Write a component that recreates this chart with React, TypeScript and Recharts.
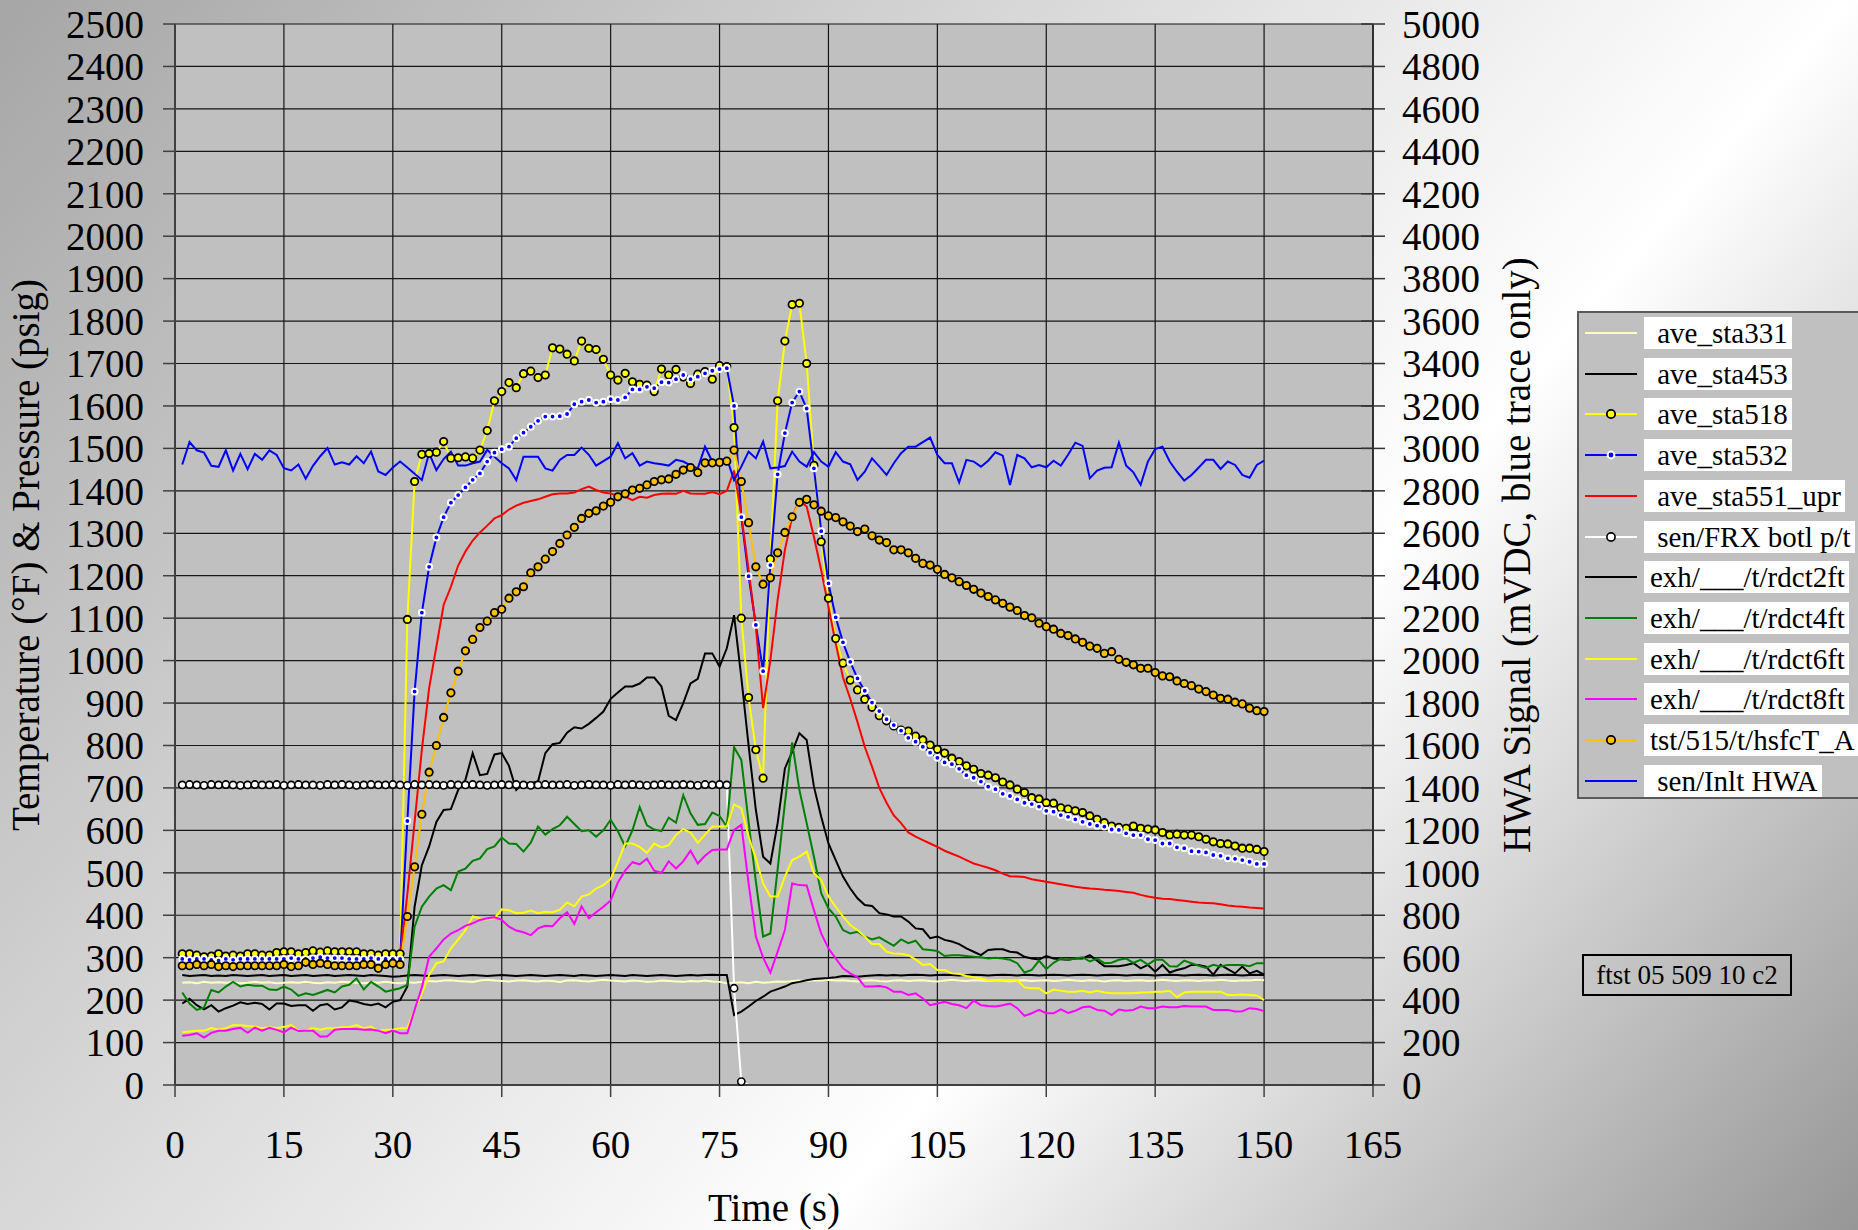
import React from "react";
import { LineChart, Line, XAxis, YAxis, CartesianGrid, Legend, Label } from "recharts";

const FONT = "'Liberation Serif', 'Times New Roman', Times, serif";

// sample times (s)
const secs = Array.from({ length: 150 }, (_, i) => i + 1);

const timeTicks = [0, 15, 30, 45, 60, 75, 90, 105, 120, 135, 150, 165];
const leftTicks = [0, 100, 200, 300, 400, 500, 600, 700, 800, 900, 1000, 1100, 1200, 1300, 1400, 1500, 1600, 1700, 1800, 1900, 2000, 2100, 2200, 2300, 2400, 2500];
const rightTicks = [0, 200, 400, 600, 800, 1000, 1200, 1400, 1600, 1800, 2000, 2200, 2400, 2600, 2800, 3000, 3200, 3400, 3600, 3800, 4000, 4200, 4400, 4600, 4800, 5000];

const ave331 = [
  241, 242, 240, 243, 241, 242, 241, 242, 240, 241,
  243, 241, 242, 240, 241, 242, 241, 243, 241, 240,
  242, 241, 243, 242, 241, 240, 242, 241, 243, 241,
  240, 242, 241, 243, 245, 244, 246, 247, 245, 244,
  243, 246, 248, 246, 245, 244, 246, 247, 245, 244,
  246, 245, 243, 246, 247, 245, 244, 246, 248, 246,
  245, 244, 246, 245, 243, 244, 246, 245, 244, 243,
  245, 244, 246, 244, 243, 240, 241, 242, 240, 243,
  241, 242, 244, 243, 245, 246, 245, 247, 246, 248,
  246, 247, 245, 244, 246, 247, 245, 244, 246, 247,
  245, 246, 247, 245, 244, 246, 248, 246, 245, 247,
  246, 245, 247, 246, 244, 246, 247, 245, 246, 247,
  245, 246, 248, 246, 245, 247, 246, 244, 246, 247,
  245, 246, 247, 245, 246, 248, 246, 245, 247, 246,
  245, 247, 246, 248, 246, 245, 247, 246, 248, 247,
];

const ave453 = [
  259, 257, 258, 259, 257, 258, 257, 259, 258, 257,
  258, 259, 257, 258, 259, 257, 258, 259, 257, 258,
  259, 257, 258, 259, 258, 257, 259, 258, 257, 255,
  256, 258, 259, 258, 257, 258, 259, 258, 257, 258,
  259, 258, 257, 258, 259, 258, 257, 258, 259, 258,
  257, 258, 259, 258, 257, 259, 258, 257, 258, 259,
  258, 257, 259, 258, 257, 258, 259, 258, 257, 258,
  259, 258, 259, 260, 259, 259, 165, 173, 185, 198,
  208, 220, 226, 232, 240, 243, 247, 250, 251, 252,
  254, 257, 256, 255, 257, 258, 259, 258, 259, 258,
  259, 260, 259, 258, 259, 260, 259, 258, 259, 260,
  259, 258, 259, 260, 259, 258, 260, 259, 258, 259,
  260, 259, 258, 259, 260, 259, 258, 259, 260, 259,
  258, 259, 260, 259, 258, 259, 260, 259, 258, 259,
  260, 259, 258, 259, 260, 259, 258, 259, 260, 259,
];

const ave518 = [
  309, 309, 306, 302, 304, 309, 304, 306, 304, 309,
  309, 306, 306, 312, 314, 314, 309, 312, 316, 313,
  316, 314, 314, 314, 314, 309, 309, 306, 309, 309,
  309, 1097, 1422, 1486, 1488, 1491, 1516, 1477, 1478, 1480,
  1477, 1496, 1542, 1612, 1634, 1655, 1643, 1676, 1682, 1667,
  1673, 1737, 1734, 1722, 1706, 1753, 1736, 1733, 1710, 1673,
  1661, 1677, 1657, 1651, 1649, 1634, 1687, 1673, 1686, 1668,
  1653, 1675, 1681, 1663, 1695, 1693, 1549, 1100, 913, 790,
  723, 1239, 1612, 1753, 1839, 1842, 1700, 1460, 1280, 1147,
  1052, 994, 954, 931, 909, 890, 870, 858, 846, 836,
  834, 822, 813, 801, 791, 782, 770, 762, 752, 744,
  734, 730, 724, 714, 707, 697, 689, 677, 674, 665,
  664, 653, 650, 646, 642, 634, 626, 618, 610, 607,
  605, 610, 605, 603, 601, 595, 589, 591, 589, 589,
  585, 579, 573, 569, 568, 563, 558, 558, 555, 550,
];

const ave532 = [
  297, 295, 297, 297, 295, 293, 297, 295, 297, 297,
  297, 297, 297, 297, 297, 299, 297, 297, 299, 301,
  299, 299, 299, 297, 297, 297, 299, 297, 297, 297,
  297, 622, 927, 1113, 1221, 1290, 1338, 1372, 1390, 1408,
  1426, 1441, 1469, 1490, 1498, 1504, 1524, 1537, 1551, 1565,
  1575, 1575, 1576, 1581, 1604, 1610, 1614, 1608, 1610, 1616,
  1614, 1620, 1639, 1639, 1645, 1642, 1656, 1655, 1663, 1673,
  1663, 1669, 1677, 1683, 1687, 1689, 1600, 1338, 1199, 1084,
  975, 1225, 1439, 1536, 1608, 1634, 1594, 1453, 1305, 1182,
  1102, 1043, 997, 958, 929, 901, 881, 862, 848, 835,
  818, 809, 797, 783, 771, 760, 756, 745, 730, 724,
  715, 703, 697, 686, 681, 673, 665, 662, 656, 646,
  644, 636, 632, 626, 620, 615, 611, 609, 602, 601,
  593, 589, 589, 579, 577, 569, 569, 560, 558, 551,
  550, 548, 542, 540, 534, 533, 530, 526, 521, 521,
];

const ave551 = [
  298, 297, 298, 299, 298, 297, 298, 299, 298, 297,
  298, 299, 298, 297, 298, 299, 298, 297, 298, 299,
  298, 297, 298, 299, 298, 297, 298, 299, 298, 297,
  300, 450, 620, 790, 935, 1033, 1131, 1174, 1224, 1257,
  1283, 1302, 1318, 1335, 1343, 1356, 1365, 1372, 1376, 1380,
  1386, 1392, 1394, 1394, 1396, 1404, 1410, 1402, 1396, 1394,
  1388, 1386, 1378, 1386, 1384, 1390, 1393, 1394, 1393, 1400,
  1394, 1393, 1393, 1397, 1392, 1400, 1448, 1343, 1213, 1080,
  888, 1001, 1143, 1261, 1339, 1377, 1363, 1292, 1213, 1127,
  1041, 960, 910, 855, 797, 750, 700, 665, 635, 617,
  595, 585, 577, 569, 561, 552, 545, 538, 530, 522,
  517, 512, 506, 498, 492, 491, 490, 485, 482, 479,
  476, 473, 470, 467, 465, 463, 462, 460, 459, 457,
  455, 453, 448, 444, 441, 439, 438, 436, 434, 432,
  430, 429, 428, 426, 423, 421, 420, 418, 417, 416,
];

const frxBotl = [
  707, 708, 707, 706, 708, 707, 708, 707, 706, 707,
  708, 707, 707, 708, 706, 707, 708, 707, 707, 706,
  708, 707, 708, 707, 706, 707, 708, 707, 707, 708,
  707, 706, 708, 707, 708, 707, 706, 708, 707, 707,
  708, 707, 706, 707, 708, 707, 708, 707, 706, 707,
  708, 707, 707, 708, 706, 707, 708, 707, 707, 706,
  708, 707, 708, 707, 706, 707, 708, 707, 707, 708,
  707, 706, 708, 707, 708, 707, 228, 8, 0, 0,
  0, 0, 0, 0, 0, 0, 0, 0, 0, 0,
  0, 0, 0, 0, 0, 0, 0, 0, 0, 0,
  0, 0, 0, 0, 0, 0, 0, 0, 0, 0,
  0, 0, 0, 0, 0, 0, 0, 0, 0, 0,
  0, 0, 0, 0, 0, 0, 0, 0, 0, 0,
  0, 0, 0, 0, 0, 0, 0, 0, 0, 0,
  0, 0, 0, 0, 0, 0, 0, 0, 0, 0,
];

const rdct2 = [
  192, 203, 188, 178, 188, 173, 181, 187, 195, 191,
  194, 191, 178, 192, 192, 186, 188, 188, 175, 188,
  191, 178, 183, 199, 196, 191, 188, 192, 183, 196,
  200, 232, 420, 518, 562, 620, 648, 650, 695, 719,
  782, 730, 733, 779, 782, 752, 695, 711, 711, 715,
  782, 803, 806, 830, 843, 840, 851, 865, 880, 910,
  925, 939, 939, 946, 960, 960, 939, 870, 860, 900,
  946, 957, 1017, 1017, 986, 1029, 1107, 960, 800, 648,
  538, 522, 617, 746, 785, 829, 813, 703, 632, 569,
  530, 491, 463, 440, 424, 422, 405, 402, 397, 397,
  385, 369, 367, 346, 350, 342, 338, 332, 322, 314,
  306, 318, 320, 320, 314, 312, 302, 298, 296, 304,
  298, 296, 295, 298, 298, 306, 293, 280, 280, 280,
  283, 287, 275, 283, 267, 283, 265, 271, 275, 283,
  283, 279, 260, 283, 273, 263, 279, 263, 269, 260,
];

const rdct4 = [
  218, 192, 177, 183, 224, 218, 232, 243, 232, 236,
  234, 234, 225, 224, 232, 225, 210, 216, 212, 218,
  224, 218, 232, 236, 251, 225, 243, 232, 220, 224,
  228, 236, 373, 420, 444, 463, 471, 459, 503, 510,
  528, 534, 556, 562, 583, 569, 568, 550, 571, 609,
  590, 603, 612, 632, 615, 598, 600, 585, 600, 625,
  598, 562, 600, 655, 612, 602, 598, 630, 618, 683,
  640, 613, 615, 642, 634, 609, 796, 766, 620, 480,
  350, 357, 508, 664, 807, 695, 617, 538, 452, 416,
  397, 365, 357, 361, 350, 343, 348, 338, 328, 343,
  334, 340, 320, 318, 316, 304, 306, 306, 304, 302,
  301, 298, 300, 298, 295, 287, 265, 271, 293, 273,
  288, 298, 295, 298, 301, 291, 298, 287, 288, 295,
  298, 288, 295, 284, 295, 295, 280, 279, 293, 287,
  281, 276, 283, 279, 283, 283, 283, 280, 287, 287,
];

const rdct6 = [
  124, 126, 128, 128, 134, 130, 134, 141, 141, 139,
  137, 134, 136, 134, 137, 141, 128, 128, 134, 130,
  134, 134, 136, 136, 141, 134, 137, 127, 130, 130,
  134, 134, 177, 216, 259, 287, 291, 322, 343, 365,
  397, 393, 390, 393, 414, 412, 405, 406, 411, 405,
  408, 407, 413, 430, 421, 444, 449, 463, 471, 485,
  525, 569, 569, 561, 547, 569, 560, 565, 589, 603,
  595, 571, 590, 609, 609, 609, 661, 652, 585, 534,
  475, 444, 444, 491, 530, 538, 550, 499, 483, 444,
  420, 397, 377, 365, 350, 332, 332, 314, 310, 309,
  306, 296, 283, 285, 271, 271, 263, 262, 257, 254,
  251, 247, 246, 247, 247, 247, 230, 228, 228, 216,
  225, 222, 220, 220, 222, 218, 222, 218, 216, 216,
  216, 216, 218, 218, 220, 220, 222, 207, 218, 220,
  220, 220, 220, 220, 212, 212, 213, 212, 211, 200,
];

const rdct8 = [
  116, 118, 122, 112, 123, 128, 128, 132, 135, 123,
  135, 128, 135, 130, 124, 135, 127, 128, 128, 114,
  115, 130, 132, 132, 132, 130, 131, 128, 122, 128,
  122, 122, 177, 230, 302, 322, 343, 357, 365, 375,
  381, 389, 393, 395, 389, 373, 364, 360, 353, 369,
  375, 374, 393, 407, 380, 421, 393, 407, 420, 435,
  477, 505, 525, 520, 533, 505, 500, 527, 510, 527,
  552, 522, 540, 554, 555, 555, 601, 613, 475, 350,
  300, 265, 314, 365, 475, 471, 470, 412, 357, 322,
  298, 275, 263, 254, 232, 232, 233, 230, 220, 220,
  212, 216, 204, 188, 192, 196, 191, 188, 181, 199,
  188, 186, 185, 188, 192, 181, 163, 169, 177, 169,
  169, 178, 170, 175, 183, 185, 177, 175, 165, 178,
  175, 177, 185, 181, 181, 185, 183, 183, 186, 185,
  185, 185, 177, 177, 177, 173, 174, 181, 179, 174,
];

const hsfcT = [
  281, 281, 284, 281, 284, 279, 281, 279, 281, 281,
  281, 281, 281, 281, 284, 279, 281, 289, 284, 287,
  284, 281, 281, 281, 281, 284, 284, 275, 284, 287,
  284, 397, 514, 638, 737, 800, 866, 924, 975, 1023,
  1050, 1078, 1093, 1113, 1121, 1147, 1162, 1174, 1207, 1221,
  1239, 1257, 1276, 1296, 1314, 1335, 1347, 1353, 1364, 1373,
  1386, 1393, 1402, 1406, 1414, 1422, 1426, 1428, 1439, 1449,
  1455, 1443, 1466, 1466, 1467, 1470, 1496, 1422, 1325, 1221,
  1180, 1195, 1254, 1302, 1339, 1373, 1380, 1367, 1352, 1341,
  1337, 1327, 1317, 1304, 1310, 1294, 1284, 1278, 1261, 1261,
  1254, 1241, 1229, 1225, 1215, 1203, 1195, 1186, 1177, 1168,
  1159, 1151, 1143, 1135, 1126, 1118, 1106, 1101, 1088, 1080,
  1074, 1064, 1059, 1051, 1043, 1034, 1029, 1017, 1021, 1003,
  996, 990, 982, 982, 972, 964, 962, 952, 946, 941,
  933, 927, 919, 911, 909, 902, 898, 888, 882, 880,
];

// HWA signal, mVDC (right axis)
const inltHwa = [
  2924, 3030, 2991, 2980, 2918, 2913, 2991, 2896, 2974, 2902,
  2974, 2946, 2991, 2969, 2907, 2896, 2924, 2857, 2918, 2963,
  3002, 2924, 2935, 2924, 2963, 2930, 2985, 2891, 2875, 2910,
  2938, 2910, 2880, 2851, 2977, 2898, 2950, 2985, 2919, 2919,
  2930, 2938, 2993, 2961, 2930, 2906, 2851, 2961, 2961, 2961,
  2906, 2895, 2946, 2969, 2969, 3004, 2970, 2919, 2940, 2961,
  3024, 2953, 2977, 2919, 2938, 2930, 2925, 2919, 2946, 2938,
  2920, 2906, 3008, 2938, 2945, 2953, 2851, 2914, 2985, 2953,
  3032, 2906, 2910, 2917, 2985, 2938, 2914, 2982, 2938, 2914,
  2982, 2938, 2925, 2851, 2890, 2953, 2915, 2875, 2930, 2977,
  3008, 3008, 3030, 3051, 2969, 2930, 2930, 2839, 2946, 2938,
  2914, 2942, 2982, 2966, 2828, 2969, 2953, 2911, 2922, 2911,
  2942, 2919, 2970, 3027, 3012, 2859, 2895, 2909, 2911, 3027,
  2919, 2887, 2828, 2938, 2997, 3008, 2938, 2890, 2848, 2875,
  2910, 2946, 2946, 2903, 2938, 2922, 2875, 2862, 2922, 2942,
];

const rows = secs.map((t, i) => ({
  t,
  s331: ave331[i],
  s453: ave453[i],
  s518: ave518[i],
  s532: ave532[i],
  s551: ave551[i],
  frx: frxBotl[i],
  r2: rdct2[i],
  r4: rdct4[i],
  r6: rdct6[i],
  r8: rdct8[i],
  hsfc: hsfcT[i],
  hwa: inltHwa[i],
}));

type Marker = { fill: string; stroke: string; r: number; sw: number } | null;
type Series = { key: string; name: string; color: string; marker: Marker; axis: string; pad: number };

const series: Series[] = [
  { key: "s331", name: "\u00a0ave_sta331", color: "#ffffc0", marker: null, axis: "left", pad: 6 },
  { key: "s453", name: "\u00a0ave_sta453", color: "#000000", marker: null, axis: "left", pad: 6 },
  { key: "s518", name: "\u00a0ave_sta518", color: "#ffff00", marker: { fill: "#ffff00", stroke: "#000", r: 3.7, sw: 1.8 }, axis: "left", pad: 6 },
  { key: "s532", name: "\u00a0ave_sta532", color: "#0000ff", marker: { fill: "#0000ff", stroke: "#fff", r: 2.9, sw: 2 }, axis: "left", pad: 6 },
  { key: "s551", name: "\u00a0ave_sta551_upr", color: "#ff0000", marker: null, axis: "left", pad: 6 },
  { key: "frx", name: "\u00a0sen/FRX botl p/t", color: "#ffffff", marker: { fill: "#fff", stroke: "#000", r: 3.6, sw: 1.6 }, axis: "left", pad: 6 },
  { key: "r2", name: "exh/___/t/rdct2ft", color: "#000000", marker: null, axis: "left", pad: 6 },
  { key: "r4", name: "exh/___/t/rdct4ft", color: "#008000", marker: null, axis: "left", pad: 6 },
  { key: "r6", name: "exh/___/t/rdct6ft", color: "#ffff00", marker: null, axis: "left", pad: 6 },
  { key: "r8", name: "exh/___/t/rdct8ft", color: "#ff00ff", marker: null, axis: "left", pad: 6 },
  { key: "hsfc", name: "tst/515/t/hsfcT_A", color: "#ffc000", marker: { fill: "#ffc000", stroke: "#000", r: 3.7, sw: 1.8 }, axis: "left", pad: 6 },
  { key: "hwa", name: "\u00a0sen/Inlt HWA", color: "#0000ff", marker: null, axis: "right", pad: 6 },
];

function frxDot(p: any) {
  const { cx, cy, payload, index } = p;
  if (cx == null || cy == null || !(payload.frx > 0)) return <g key={`frx-${index}`} />;
  return <circle key={`frx-${index}`} cx={cx} cy={cy} r={3.6} fill="#fff" stroke="#000" strokeWidth={1.6} />;
}

const R_SIZE = 12;
const R_MARGIN = 17;

function RightTick(props: any) {
  const { x, y, payload } = props;
  const axisX = x - R_SIZE - R_MARGIN;
  return (
    <g>
      <line x1={axisX - 12} x2={axisX + 12} y1={y} y2={y} stroke="#333" strokeWidth={1.5} />
      <text x={x} y={y} dy="0.355em" textAnchor="start" fontSize={39} fontFamily={FONT} fill="#000">
        {payload.value}
      </text>
    </g>
  );
}

function LegendBox() {
  return (
    <div
      style={{
        position: "relative",
        width: 300,
        height: 488,
        background: "#c0c0c0",
        border: "2px solid #5a5a5a",
        boxSizing: "border-box",
        fontFamily: FONT,
        fontSize: 29,
        color: "#000",
      }}
    >
      {series.map((s, i) => (
        <div key={s.key} style={{ position: "absolute", left: 0, top: 4 + i * 40.7, height: 32, width: 300 }}>
          <svg width={62} height={32} style={{ position: "absolute", left: 0, top: 0 }}>
            <line x1={6} x2={58} y1={16} y2={16} stroke={s.color} strokeWidth={2} />
            {s.marker && (
              <circle cx={32} cy={16} r={s.marker.r + 0.5} fill={s.marker.fill} stroke={s.marker.stroke} strokeWidth={s.marker.sw} />
            )}
          </svg>
          <span
            style={{
              position: "absolute",
              left: 65,
              top: 0,
              height: 32,
              lineHeight: "32px",
              background: "#fff",
              paddingLeft: s.pad,
              paddingRight: 4,
              whiteSpace: "pre",
            }}
          >
            {s.name}
          </span>
        </div>
      ))}
    </div>
  );
}

export default function App() {
  return (
    <div
      style={{
        position: "absolute",
        left: 0,
        top: 0,
        width: 1858,
        height: 1230,
        overflow: "hidden",
        background: "linear-gradient(130deg, #a6a6a6 0%, #ffffff 64%, #969696 100%)",
      }}
    >
      <LineChart width={1858} height={1230} data={rows} margin={{ top: 24, right: 385, bottom: 85, left: 75 }}>
        <CartesianGrid yAxisId="left" stroke="#151515" strokeWidth={1.2} fill="#c0c0c0" fillOpacity={1} />
        <XAxis
          dataKey="t"
          type="number"
          domain={[0, 165]}
          ticks={timeTicks}
          interval={0}
          height={60}
          tickSize={12}
          tickMargin={33}
          axisLine={{ stroke: "#404040", strokeWidth: 2 }}
          tickLine={{ stroke: "#404040", strokeWidth: 1.5 }}
          tick={{ fontSize: 39, fill: "#000", fontFamily: FONT }}
        >
          <Label
            content={(p: any) => (
              <text x={p.viewBox.x + p.viewBox.width / 2} y={1221} textAnchor="middle" fontSize={39} fontFamily={FONT} fill="#000">
                Time (s)
              </text>
            )}
          />
        </XAxis>
        <YAxis
          yAxisId="left"
          domain={[0, 2500]}
          ticks={leftTicks}
          interval={0}
          width={100}
          tickSize={12}
          tickMargin={19}
          axisLine={{ stroke: "#404040", strokeWidth: 2 }}
          tickLine={{ stroke: "#404040", strokeWidth: 1.5 }}
          tick={{ fontSize: 39, fill: "#000", fontFamily: FONT }}
        >
          <Label
            content={() => (
              <text x={39} y={555} transform="rotate(-90, 39, 555)" textAnchor="middle" fontSize={39} fontFamily={FONT} fill="#000">
                Temperature (°F) &amp; Pressure (psig)
              </text>
            )}
          />
        </YAxis>
        <YAxis
          yAxisId="right"
          orientation="right"
          domain={[0, 5000]}
          ticks={rightTicks}
          interval={0}
          width={100}
          tickSize={R_SIZE}
          tickMargin={R_MARGIN}
          axisLine={{ stroke: "#202020", strokeWidth: 1.5 }}
          tickLine={false}
          tick={<RightTick />}
        >
          <Label
            content={() => (
              <text x={1530} y={555} transform="rotate(-90, 1530, 555)" textAnchor="middle" fontSize={39} fontFamily={FONT} fill="#000">
                HWA Signal (mVDC, blue trace only)
              </text>
            )}
          />
        </YAxis>
        <Legend
          layout="vertical"
          align="center"
          verticalAlign="middle"
          content={() => <LegendBox />}
          wrapperStyle={{ left: 1577, top: 311, width: 300, height: 488 }}
        />
        {series.map((s) => (
          <Line
            key={s.key}
            yAxisId={s.axis}
            dataKey={s.key}
            name={s.name}
            type="linear"
            stroke={s.color}
            strokeWidth={2}
            isAnimationActive={false}
            activeDot={false}
            dot={
              s.key === "frx"
                ? frxDot
                : s.marker
                ? { r: s.marker.r, fill: s.marker.fill, stroke: s.marker.stroke, strokeWidth: s.marker.sw }
                : false
            }
          />
        ))}
      </LineChart>
      <div
        style={{
          position: "absolute",
          left: 1582,
          top: 954,
          width: 210,
          height: 42,
          border: "2px solid #000",
          boxSizing: "border-box",
          fontFamily: FONT,
          fontSize: 27,
          lineHeight: "38px",
          textAlign: "center",
          color: "#000",
        }}
      >
        ftst 05 509 10 c2
      </div>
    </div>
  );
}
